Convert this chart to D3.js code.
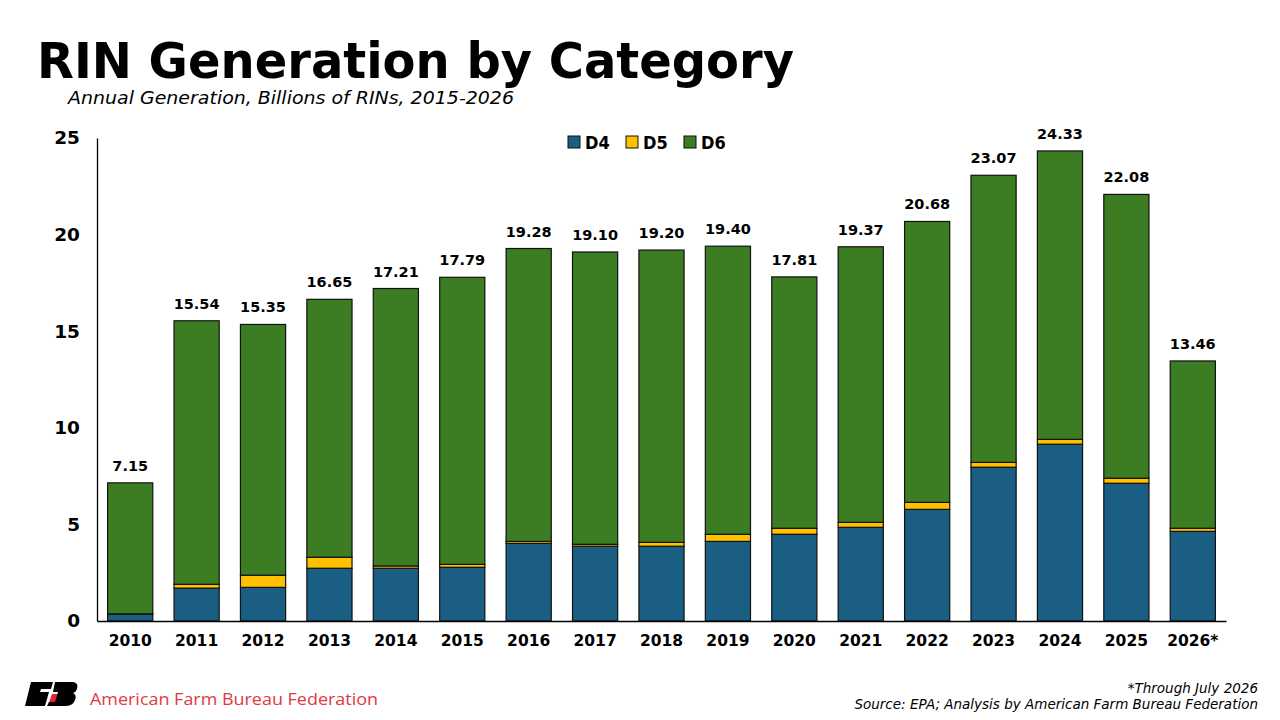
<!DOCTYPE html>
<html><head><meta charset="utf-8">
<script src="https://cdn.jsdelivr.net/npm/d3@7"></script>
<style>body{margin:0;background:#fff}svg{display:block}</style>
</head><body>
<svg id="c" width="1280" height="720"></svg>
<script>
const categories = ["2010","2011","2012","2013","2014","2015","2016","2017","2018","2019","2020","2021","2022","2023","2024","2025","2026*"];
const totals = [7.15,15.54,15.35,16.65,17.21,17.79,19.28,19.10,19.20,19.40,17.81,19.37,20.68,23.07,24.33,22.08,13.46];
const d4 = [0.35,1.70,1.74,2.73,2.73,2.78,4.02,3.87,3.87,4.12,4.49,4.85,5.78,7.96,9.15,7.13,4.64];
const d5 = [0.02,0.20,0.63,0.57,0.12,0.15,0.10,0.10,0.20,0.37,0.31,0.26,0.36,0.25,0.25,0.26,0.16];
const d6 = totals.map((t,i)=>+(t-d4[i]-d5[i]).toFixed(2));
const seriesNames = ["D4","D5","D6"];
const colors = ["#1a5f83","#ffc000","#3c7d23"];
const yTicks = [0,5,10,15,20,25];

const svg = d3.select("#c");
const F = "'DejaVu Sans', Verdana, sans-serif";

svg.append("text").attr("x",37).attr("y",78).text("RIN Generation by Category")
  .attr("font-family","'DejaVu Sans Condensed','DejaVu Sans',sans-serif").attr("font-weight","bold")
  .attr("font-size",50).attr("fill","#000").attr("textLength",757).attr("lengthAdjust","spacingAndGlyphs");
svg.append("text").attr("x",68).attr("y",104).text("Annual Generation, Billions of RINs, 2015-2026")
  .attr("font-family","'DejaVu Sans Condensed','DejaVu Sans',sans-serif").attr("font-style","italic")
  .attr("font-size",17.5).attr("fill","#000").attr("textLength",446).attr("lengthAdjust","spacingAndGlyphs");

const x0 = 97, x1 = 1226, yTop = 138, yBot = 621;
const x = d3.scaleBand().domain(categories).range([x0,x1]).paddingInner(0.32).paddingOuter(0.16);
const y = d3.scaleLinear().domain([0,25]).range([yBot,yTop]);

const rows = categories.map((c,i)=>({cat:c, D4:d4[i], D5:d5[i], D6:d6[i]}));
const stack = d3.stack().keys(seriesNames)(rows);

const g = svg.append("g");
g.selectAll("g.s").data(stack).join("g").attr("fill",(d,i)=>colors[i])
  .selectAll("rect").data(d=>d).join("rect")
  .attr("x",d=>x(d.data.cat)).attr("width",x.bandwidth())
  .attr("y",d=>y(d[1])).attr("height",d=>y(d[0])-y(d[1]))
  .attr("stroke","#111").attr("stroke-width",1.2);

// axes
const yAxis = d3.axisLeft(y).tickValues(yTicks).tickSize(0).tickPadding(17);
const ya = svg.append("g").attr("transform",`translate(${x0},0)`).call(yAxis);
ya.select(".domain").attr("stroke","#000").attr("stroke-width",1.3);
ya.selectAll("text").attr("font-family",F).attr("font-weight","bold").attr("font-size",18.5).attr("fill","#000");

const xAxis = d3.axisBottom(x).tickSize(0).tickPadding(14);
const xa = svg.append("g").attr("transform",`translate(0,${yBot})`).call(xAxis);
xa.select(".domain").attr("stroke","#000").attr("stroke-width",1.3);
xa.selectAll("text").attr("font-family",F).attr("font-weight","bold").attr("font-size",15.5).attr("fill","#000");

// value labels
svg.append("g").selectAll("text").data(categories).join("text")
  .attr("x",d=>x(d)+x.bandwidth()/2).attr("y",(d,i)=>y(totals[i])-12)
  .attr("text-anchor","middle").text((d,i)=>totals[i].toFixed(2))
  .attr("font-family",F).attr("font-weight","bold").attr("font-size",14.5).attr("fill","#000");

// legend
const lg = svg.append("g").attr("transform","translate(568,134)");
const lx = [0,58,116];
seriesNames.forEach((n,i)=>{
  lg.append("rect").attr("x",lx[i]).attr("y",2).attr("width",12).attr("height",12)
    .attr("fill",colors[i]).attr("stroke","#111").attr("stroke-width",1);
  lg.append("text").attr("x",lx[i]+17).attr("y",15).text(n)
    .attr("font-family","'DejaVu Sans Condensed','DejaVu Sans',sans-serif").attr("font-weight","bold").attr("font-size",18).attr("fill","#000");
});

// footnotes
svg.append("text").attr("x",1258).attr("y",693).attr("text-anchor","end").text("*Through July 2026")
  .attr("font-family",F).attr("font-style","italic").attr("font-size",13.5).attr("fill","#000");
svg.append("text").attr("x",1258).attr("y",709).attr("text-anchor","end").text("Source: EPA; Analysis by American Farm Bureau Federation")
  .attr("font-family",F).attr("font-style","italic").attr("font-size",13.5).attr("fill","#000");

// logo
const logo = svg.append("g").attr("transform","translate(25,682)");
logo.append("path").attr("d","M6,0 L28,0 L26,7 L16,7 L15,10 L24,10 L20,24 L0,24 Z").attr("fill","#000");
logo.append("path").attr("d","M27,12 L34,12 L31,23 L23,23 Z").attr("fill","#e2272c");
logo.append("path").attr("d","M30,0 L48,0 Q54,1 52,7 Q51,10 48,11 Q52,13 50,18 Q48,24 40,24 L22,24 L24,20 L30,20 L33,10 L28,10 Z").attr("fill","#000");
svg.append("text").attr("x",90).attr("y",705).text("American Farm Bureau Federation")
  .attr("font-family","'Open Sans',sans-serif").attr("font-size",17).attr("fill","#e0393e")
  .attr("textLength",288).attr("lengthAdjust","spacingAndGlyphs");
</script>
</body></html>
